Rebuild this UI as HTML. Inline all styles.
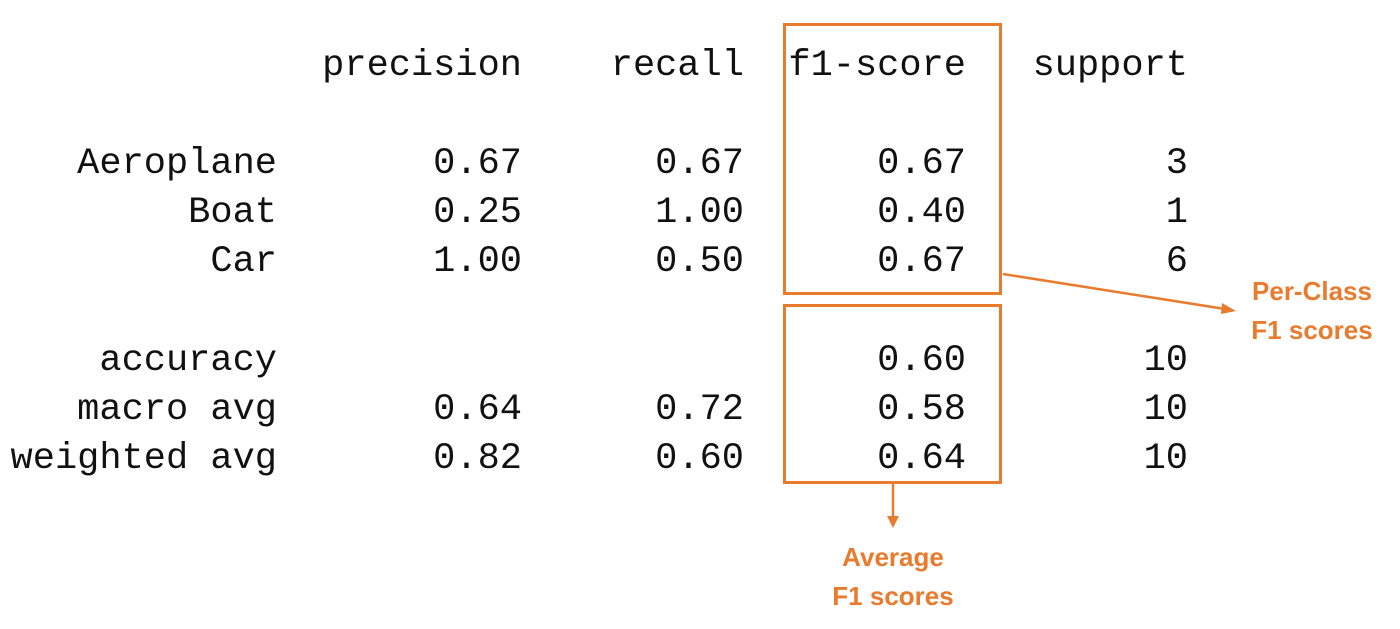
<!DOCTYPE html>
<html><head><meta charset="utf-8"><style>
html,body{margin:0;padding:0;background:#fff;}
svg{display:block;}
.m{font-family:"Liberation Mono",monospace;font-size:37px;fill:#111;}
.o{font-family:"Liberation Sans",sans-serif;font-weight:bold;font-size:26px;fill:#E97B2E;}
</style></head><body>
<svg width="1400" height="629" viewBox="0 0 1400 629">
<g class="m" text-anchor="end">
<text x="522" y="75">precision</text>
<text x="744" y="75">recall</text>
<text x="966" y="75">f1-score</text>
<text x="1188" y="75">support</text>
</g>
<g id="rows" class="m" text-anchor="end"></g>
<rect x="784.5" y="24.5" width="216" height="269" fill="none" stroke="#E97B2E" stroke-width="3"/>
<rect x="784.5" y="305.5" width="216" height="177" fill="none" stroke="#E97B2E" stroke-width="3"/>
<line x1="1003" y1="274" x2="1225" y2="309" stroke="#E97B2E" stroke-width="2.5"/>
<polygon points="1236,311 1222,303 1221,314" fill="#E97B2E"/>
<line x1="893" y1="483" x2="893" y2="518" stroke="#E97B2E" stroke-width="2.5"/>
<polygon points="893,528 887,516 899,516" fill="#E97B2E"/>
<text class="o" x="1312" y="300" text-anchor="middle">Per-Class</text>
<text class="o" x="1312" y="339" text-anchor="middle">F1 scores</text>
<text class="o" x="893" y="566" text-anchor="middle">Average</text>
<text class="o" x="893" y="605" text-anchor="middle">F1 scores</text>
</svg>
<script>
const rowLabels=["Aeroplane","Boat","Car","accuracy","macro avg","weighted avg"];
const precision=["0.67","0.25","1.00","","0.64","0.82"];
const recall=["0.67","1.00","0.50","","0.72","0.60"];
const f1=["0.67","0.40","0.67","0.60","0.58","0.64"];
const support=["3","1","6","10","10","10"];
const ys=[173,222,271,370,419,468];
const xs=[277,522,744,966,1188];
const g=document.getElementById('rows');
const NS="http://www.w3.org/2000/svg";
rowLabels.forEach((lab,i)=>{
  const vals=[lab,precision[i],recall[i],f1[i],support[i]];
  const names=['label','precision','recall','f1','support'];
  vals.forEach((v,j)=>{
    if(!v)return;
    const t=document.createElementNS(NS,'text');
    t.setAttribute('x',xs[j]);t.setAttribute('y',ys[i]);
    t.textContent=v;
    
    
    g.appendChild(t);
  });
});
</script>
</body></html>
